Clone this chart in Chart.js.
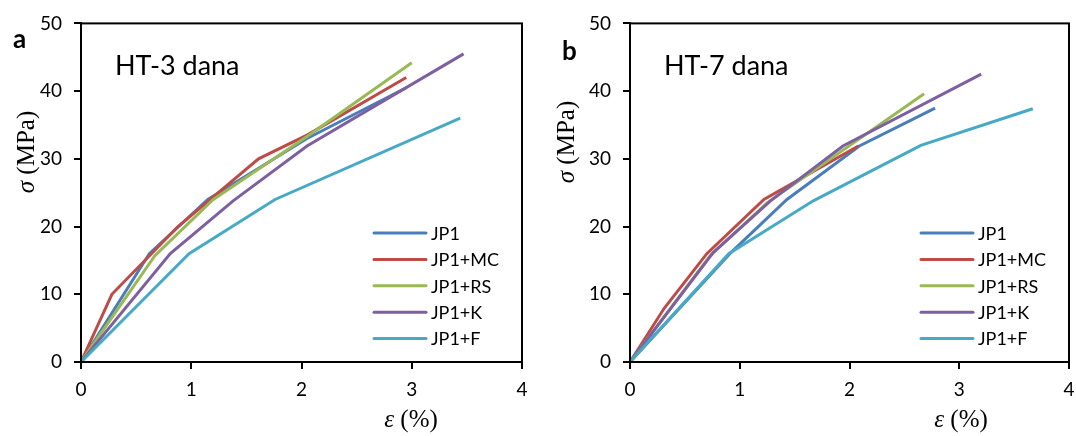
<!DOCTYPE html>
<html>
<head>
<meta charset="utf-8">
<script src="https://cdn.jsdelivr.net/npm/chart.js@4/dist/chart.umd.min.js"></script>
<style>
  html, body { margin: 0; background: #fff; overflow: hidden; }
  #wrap { position: relative; width: 1076px; height: 436px; overflow: hidden; }
  canvas { position: absolute; top: 0; }
</style>
</head>
<body>
<div id="wrap">
  <canvas id="left" width="548" height="436" style="left:0"></canvas>
  <canvas id="right" width="548" height="436" style="left:548px"></canvas>
</div>
<script>
// series names and colours (Excel 2007 palette)
const seriesNames = ['JP1', 'JP1+MC', 'JP1+RS', 'JP1+K', 'JP1+F'];
const seriesColors = ['#4a7ebb', '#be4b48', '#98b954', '#7d60a0', '#46aac5'];

// axis ticks
const xTicks = [0, 1, 2, 3, 4];
const yTicks = [0, 10, 20, 30, 40, 50];

// HT-3 dana: strain (%) / stress (MPa)
const ht3_jp1_x = [0, 0.62, 1.15, 2.05, 2.95];
const ht3_jp1_y = [0, 16, 24, 33, 40.5];
const ht3_mc_x = [0, 0.28, 0.88, 1.61, 2.05, 2.95];
const ht3_mc_y = [0, 10, 20, 30, 33.5, 42];
const ht3_rs_x = [0, 0.67, 1.2, 2.05, 3.0];
const ht3_rs_y = [0, 15.7, 24, 33.3, 44.2];
const ht3_k_x = [0, 0.81, 1.38, 2.05, 3.47];
const ht3_k_y = [0, 16, 23.8, 31.9, 45.5];
const ht3_f_x = [0, 0.98, 1.76, 3.44];
const ht3_f_y = [0, 16, 24, 36];

// HT-7 dana
const ht7_jp1_x = [0, 0.91, 1.43, 2.09, 2.78];
const ht7_jp1_y = [0, 16, 24, 31.9, 37.5];
const ht7_mc_x = [0, 0.31, 0.7, 1.22, 2.08];
const ht7_mc_y = [0, 7.9, 16, 24, 31.9];
const ht7_rs_x = [0, 0.73, 1.25, 2.68];
const ht7_rs_y = [0, 15.7, 23.5, 39.6];
const ht7_k_x = [0, 0.76, 1.28, 1.94, 3.2];
const ht7_k_y = [0, 16.2, 23.8, 31.9, 42.5];
const ht7_f_x = [0, 0.9, 1.67, 2.65, 3.67];
const ht7_f_y = [0, 16, 23.8, 32, 37.4];

const sansFont = 'Lato, "Open Sans", sans-serif';
const serifFont = '"Liberation Serif", "DejaVu Serif", serif';

// pair x/y arrays into points
function pts(xs, ys) {
    return xs.map((x, i) => ({ x: x, y: ys[i] }));
}

// draw italic symbol followed by upright text, centred on (0, 0)
function mathLabel(ctx, sym, rest) {
    ctx.font = 'italic 25px ' + serifFont;
    const w1 = ctx.measureText(sym).width;
    ctx.font = '25px ' + serifFont;
    const w2 = ctx.measureText(rest).width;
    const x0 = -(w1 + w2) / 2;
    ctx.font = 'italic 25px ' + serifFont;
    ctx.fillText(sym, x0, 0);
    ctx.font = '25px ' + serifFont;
    ctx.fillText(rest, x0 + w1, 0);
}

// annotation plugin: frame, panel letter, heading, axis titles, legend
const extras = {
    id: 'extras',
    afterDatasetsDraw(chart, args, o) {
        const ctx = chart.ctx;
        const a = chart.chartArea;
        ctx.save();
        ctx.strokeStyle = '#000';
        ctx.lineWidth = 2;
        ctx.strokeRect(a.left, a.top, a.right - a.left, a.bottom - a.top);

        ctx.fillStyle = '#000';
        ctx.textBaseline = 'alphabetic';
        ctx.textAlign = 'left';
        ctx.font = 'bold 26px ' + sansFont;
        ctx.fillText(o.letter, o.letterX, o.letterY);

        ctx.font = '27px ' + sansFont;
        ctx.fillText(o.heading, a.left + 34, 75);

        ctx.textBaseline = 'middle';
        // y title
        ctx.save();
        ctx.translate(o.yTitleX, o.yTitleY);
        ctx.rotate(-Math.PI / 2);
        mathLabel(ctx, 'σ', ' (MPa)');
        ctx.restore();

        // x title
        ctx.save();
        ctx.translate(o.xTitleX, o.xTitleY);
        mathLabel(ctx, 'ε', ' (%)');
        ctx.restore();

        // legend inside plot, lower right
        ctx.font = '18px ' + sansFont;
        ctx.lineCap = 'round';
        chart.data.datasets.forEach((ds, i) => {
            const y = a.bottom - 129 + i * 26.4;
            const lx = a.right - 148;
            ctx.strokeStyle = ds.borderColor;
            ctx.lineWidth = 3;
            ctx.beginPath();
            ctx.moveTo(lx, y);
            ctx.lineTo(lx + 52, y);
            ctx.stroke();
            ctx.fillStyle = '#000';
            ctx.fillText(ds.label, lx + 57, y + 1);
        });
        ctx.restore();
    }
};

function makeChart(id, xsList, ysList, opts) {
    const datasets = seriesNames.map((name, i) => ({
        label: name,
        data: pts(xsList[i], ysList[i]),
        borderColor: seriesColors[i],
        backgroundColor: seriesColors[i],
        borderWidth: 3,
        pointRadius: 0,
        showLine: true,
        fill: false,
        order: seriesNames.length - i
    }));

    const tickFont = { family: sansFont, size: 19 };
    const gridOpts = { drawOnChartArea: false, drawTicks: true, tickLength: 7, color: '#000', lineWidth: 2 };

    new Chart(document.getElementById(id), {
        type: 'scatter',
        data: { datasets: datasets },
        options: {
            responsive: false,
            animation: false,
            layout: { padding: { left: 0, top: opts.padTop, right: opts.padRight, bottom: 0 } },
            plugins: { legend: { display: false }, tooltip: { enabled: false }, extras: opts },
            scales: {
                x: {
                    type: 'linear', min: 0, max: 4,
                    afterBuildTicks: s => { s.ticks = xTicks.map(v => ({ value: v })); },
                    ticks: { color: '#000', font: tickFont, padding: 9, maxRotation: 0 },
                    grid: gridOpts,
                    border: { display: true, color: '#000', width: 2 },
                    afterFit: s => { s.height = 74; }
                },
                y: {
                    type: 'linear', min: 0, max: 50,
                    afterBuildTicks: s => { s.ticks = yTicks.map(v => ({ value: v })); },
                    ticks: { color: '#000', font: tickFont, padding: opts.yPad },
                    grid: gridOpts,
                    border: { display: true, color: '#000', width: 2 },
                    afterFit: s => { s.width = opts.yWidth; }
                }
            }
        },
        plugins: [extras]
    });
}

makeChart('left',
    [ht3_jp1_x, ht3_mc_x, ht3_rs_x, ht3_k_x, ht3_f_x],
    [ht3_jp1_y, ht3_mc_y, ht3_rs_y, ht3_k_y, ht3_f_y],
    { letter: 'a', letterX: 13, letterY: 48, heading: 'HT-3 dana',
      yTitleX: 27, yTitleY: 152, xTitleX: 411, xTitleY: 420,
      padTop: 22, padRight: 26, yWidth: 81, yPad: 12 });

makeChart('right',
    [ht7_jp1_x, ht7_mc_x, ht7_rs_x, ht7_k_x, ht7_f_x],
    [ht7_jp1_y, ht7_mc_y, ht7_rs_y, ht7_k_y, ht7_f_y],
    { letter: 'b', letterX: 14, letterY: 60, heading: 'HT-7 dana',
      yTitleX: 19, yTitleY: 142, xTitleX: 413, xTitleY: 420,
      padTop: 22, padRight: 27, yWidth: 82, yPad: 12 });
</script>
</body>
</html>
